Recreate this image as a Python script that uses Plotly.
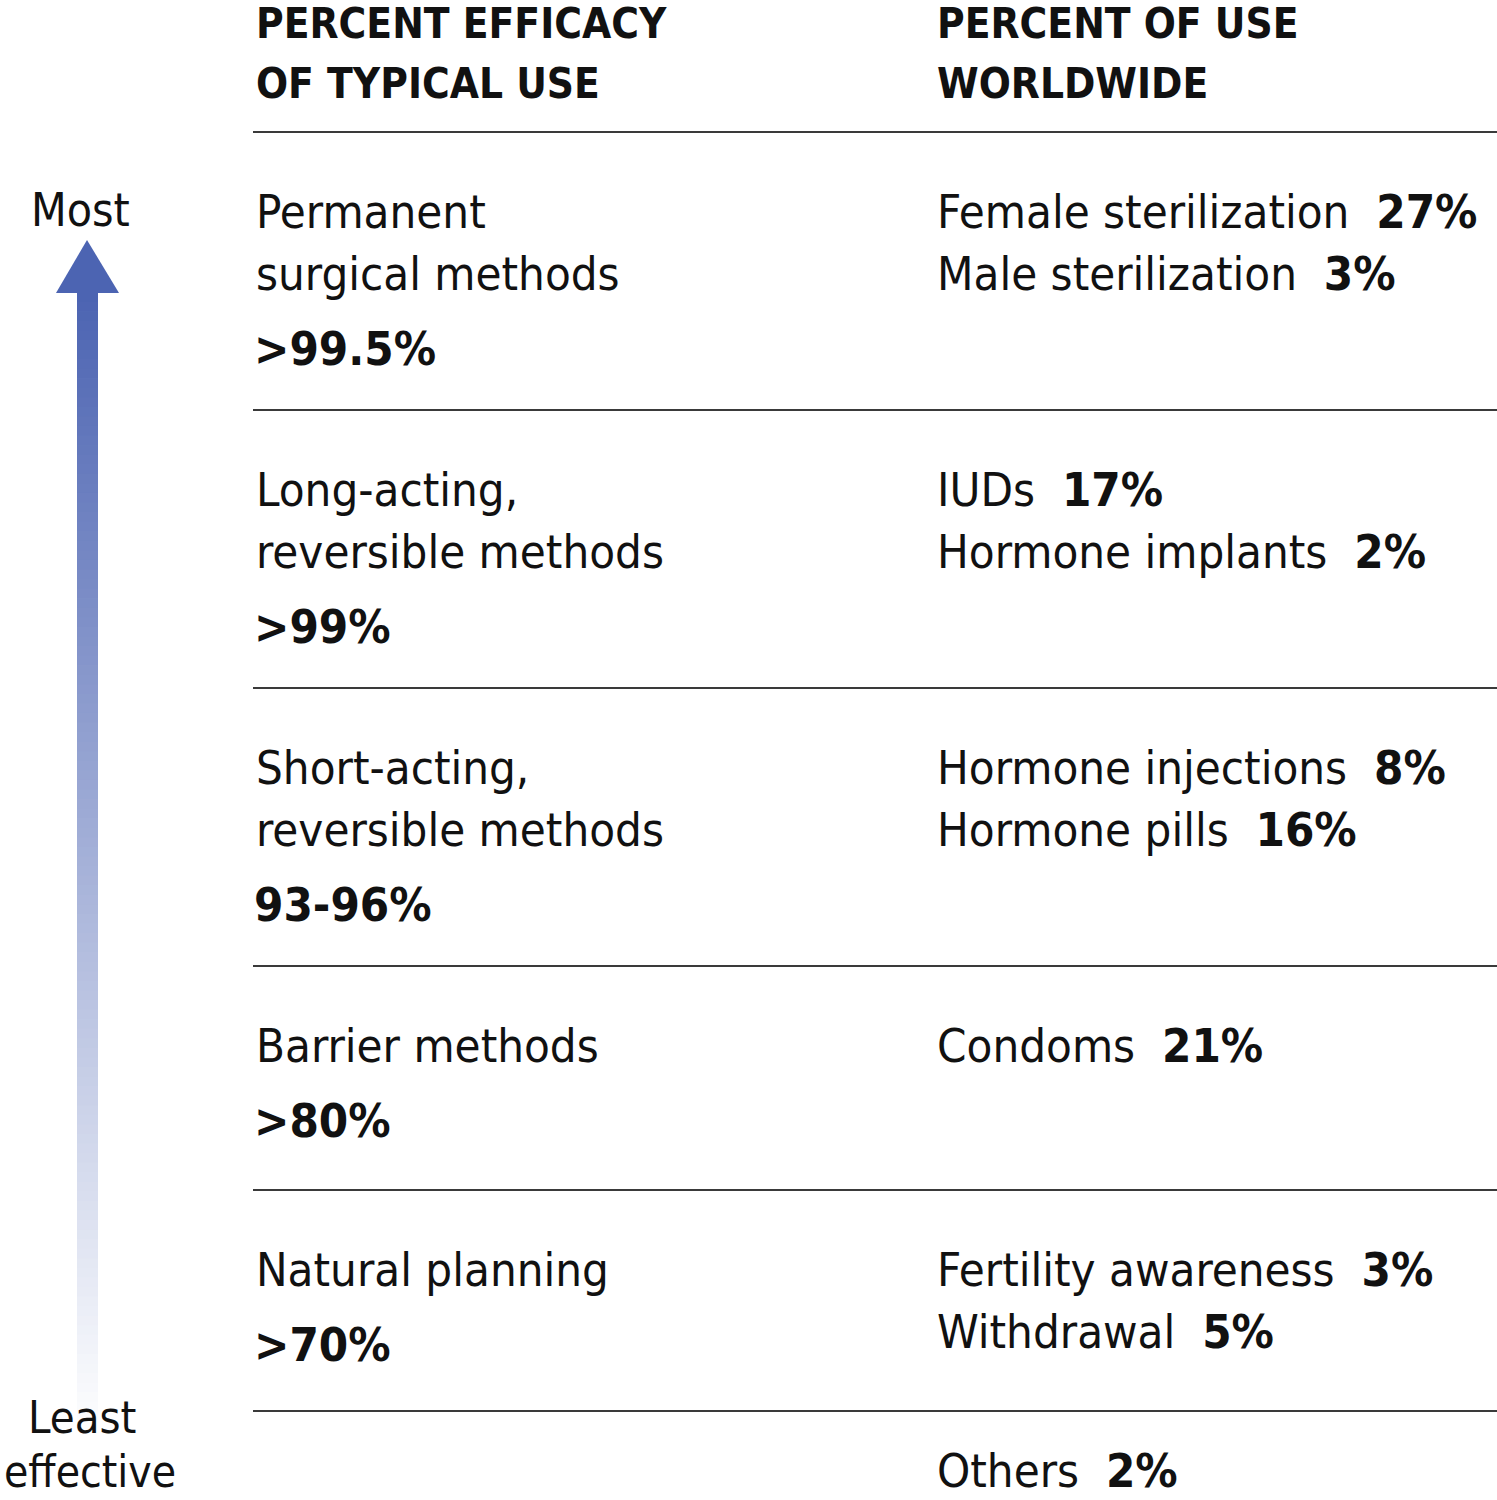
import plotly.graph_objects as go

# ---------------- data ----------------
header_left = ["PERCENT EFFICACY", "OF TYPICAL USE"]
header_right = ["PERCENT OF USE", "WORLDWIDE"]
efficacy_labels = [
    ["Permanent", "surgical methods"],
    ["Long-acting,", "reversible methods"],
    ["Short-acting,", "reversible methods"],
    ["Barrier methods"],
    ["Natural planning"],
    [],
]
efficacy_values = [">99.5%", ">99%", "93-96%", ">80%", ">70%", ""]
methods = [
    ["Female sterilization", "Male sterilization"],
    ["IUDs", "Hormone implants"],
    ["Hormone injections", "Hormone pills"],
    ["Condoms"],
    ["Fertility awareness", "Withdrawal"],
    ["Others"],
]
shares = [[27, 3], [17, 2], [8, 16], [21], [3, 5], [2]]
scale_top = "Most"
scale_bottom = ["Least", "effective"]

# ---------------- layout constants ----------------
W, H = 1497, 1500
FONT = "Liberation Sans Narrow, DejaVu Sans Condensed, Arial Narrow, sans-serif"
row_lines = [132, 410, 688, 966, 1190, 1411]
x_left, x_right = 254, 935
FS = 47
LINE = 62

annotations = []


def put(x, baseline, text, size=FS, bold=False, anchor="left"):
    if bold:
        text = "<b>" + text + "</b>"
    annotations.append(dict(
        x=x, y=baseline - 0.35 * size, xref="x", yref="y",
        text=text, showarrow=False, xanchor=anchor, yanchor="middle",
        font=dict(family=FONT, size=size, color="#111111"),
    ))


# headers
for i, t in enumerate(header_left):
    put(x_left, 38 + 60 * i, t, size=42, bold=True)
for i, t in enumerate(header_right):
    put(x_right, 38 + 60 * i, t, size=42, bold=True)

shapes = []
# row divider lines
for y in row_lines:
    shapes.append(dict(type="line", xref="x", yref="y", x0=253, x1=W, y0=y, y1=y,
                       line=dict(color="#3a3a3a", width=2)))

# rows
for r, top in enumerate(row_lines):
    b0 = top + 96
    labels = efficacy_labels[r]
    for i, t in enumerate(labels):
        put(x_left, b0 + LINE * i, t)
    if efficacy_values[r]:
        vb = b0 + LINE * (len(labels) - 1) + 75
        put(x_left - 2, vb, efficacy_values[r], size=FS, bold=True)
    for i, (m, s) in enumerate(zip(methods[r], shares[r])):
        put(x_right, min(b0 + LINE * i, 1487),
            m + "\u00a0\u00a0<b>" + str(s) + "%</b>")

# scale labels
put(80, 226, scale_top, size=46, anchor="center")
put(82, 1433, scale_bottom[0], size=45, anchor="center")
put(90, 1487, scale_bottom[1], size=44, anchor="center")

# gradient arrow
top_rgb = (76, 100, 178)
y_start, y_end = 292, 1440
n = 120
step = (y_end - y_start) / n
for k in range(n):
    f = k / (n - 1)
    c = tuple(int(round(top_rgb[j] + (255 - top_rgb[j]) * f)) for j in range(3))
    shapes.append(dict(type="rect", xref="x", yref="y", x0=77, x1=98,
                       y0=y_start + k * step, y1=y_start + (k + 1) * step + 0.8,
                       line=dict(width=0), fillcolor="rgb(%d,%d,%d)" % c, layer="below"))
shapes.append(dict(type="path", xref="x", yref="y", path="M 56,293 L 119,293 L 87,240 Z",
                   fillcolor="rgb(%d,%d,%d)" % top_rgb, line=dict(width=0)))

fig = go.Figure()
fig.add_trace(go.Scatter(x=[0, W], y=[0, H], mode="markers", marker=dict(opacity=0),
                         hoverinfo="skip", showlegend=False))
fig.update_layout(
    width=W, height=H, margin=dict(l=0, r=0, t=0, b=0),
    paper_bgcolor="white", plot_bgcolor="white",
    xaxis=dict(range=[0, W], visible=False, fixedrange=True),
    yaxis=dict(range=[H, 0], visible=False, fixedrange=True),
    annotations=annotations, shapes=shapes, showlegend=False,
)
fig.write_html("out.html", config={"displayModeBar": False},
               post_script="document.body.style.margin='0';document.body.style.overflow='hidden';")
